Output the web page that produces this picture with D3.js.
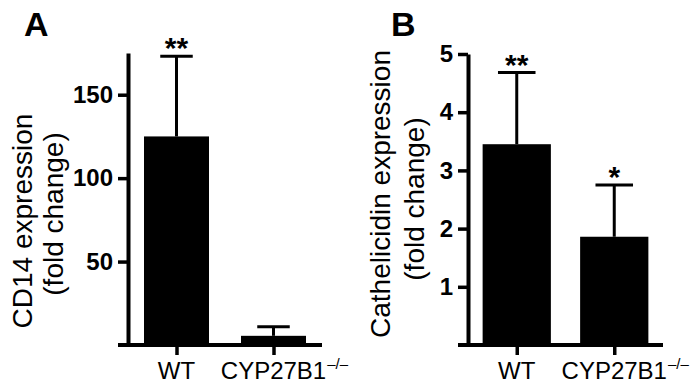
<!DOCTYPE html>
<html>
<head>
<meta charset="utf-8">
<script src="https://cdn.jsdelivr.net/npm/d3@7"></script>
<style>
  body { margin: 0; background: #fff; }
  svg { display: block; font-family: "Liberation Sans", Arial, Helvetica, sans-serif; }
</style>
</head>
<body>
<svg width="700" height="389"></svg>
<script>
// groups on the x axis
const groups = ["WT", "CYP27B1"];

// panel A: CD14 expression
const cd14_mean = [125, 5.5];
const cd14_err = [48, 5.5];
const cd14_stars = ["**", ""];
const cd14_ticks = [50, 100, 150];

// panel B: cathelicidin expression
const camp_mean = [3.45, 1.86];
const camp_err = [1.23, 0.89];
const camp_stars = ["**", "*"];
const camp_ticks = [1, 2, 3, 4, 5];

const svg = d3.select("svg");
const base_y = 345;

const panel = (p) => {
  const g = svg.append("g");

  const x = d3.scalePoint(groups, [p.left, p.right]).padding(0.5);
  const y = d3.scaleLinear([0, p.ymax], [base_y, p.top]);
  const bw = x.step() * p.barFrac;
  const rows = groups.map((d, i) => ({ g: d, v: p.mean[i], e: p.err[i], s: p.stars[i] }));

  // bars
  g.append("g")
    .selectAll("rect")
    .data(rows)
    .join("rect")
      .attr("x", d => x(d.g) - bw/2)
      .attr("width", bw)
      .attr("y", d => y(d.v))
      .attr("height", d => y(0) - y(d.v))
      .attr("fill", "#000");

  // error bars (upper only)
  const eb = g.append("g").attr("stroke", "#000").attr("stroke-width", 3);
  eb.selectAll(".v")
    .data(rows)
    .join("line")
      .attr("x1", d => x(d.g)).attr("x2", d => x(d.g))
      .attr("y1", d => y(d.v)).attr("y2", d => y(d.v + d.e));
  eb.selectAll(".c")
    .data(rows)
    .join("line")
      .attr("x1", d => x(d.g) - bw*p.capFrac/2).attr("x2", d => x(d.g) + bw*p.capFrac/2)
      .attr("y1", d => y(d.v + d.e)).attr("y2", d => y(d.v + d.e));

  // significance stars
  g.append("g")
    .selectAll("text")
    .data(rows)
    .join("text")
      .attr("x", d => x(d.g))
      .attr("y", d => y(d.v + d.e) + 2)
      .attr("text-anchor", "middle")
      .attr("font-size", 30)
      .attr("font-weight", "bold")
      .text(d => d.s);

  // y axis
  const ya = g.append("g")
    .attr("transform", `translate(${p.left},0)`)
    .call(d3.axisLeft(y).tickValues(p.ticks).tickFormat(d3.format("d"))
      .tickSize(10).tickSizeOuter(0).tickPadding(5));
  ya.select(".domain").attr("stroke-width", 4);
  ya.selectAll(".tick line").attr("stroke-width", 3.5);
  ya.selectAll(".tick text")
    .attr("font-size", 24)
    .attr("font-weight", "bold")
    .attr("font-family", null)
    .attr("fill", "#000");

  // baseline, running a little left of the y axis
  g.append("line")
    .attr("x1", p.left - 10).attr("x2", p.right)
    .attr("y1", y(0)).attr("y2", y(0))
    .attr("stroke", "#000").attr("stroke-width", 4);

  // x ticks
  const xa = g.append("g")
    .attr("transform", `translate(0,${y(0)})`)
    .call(d3.axisBottom(x).tickSize(10).tickSizeOuter(0).tickFormat(""));
  xa.select(".domain").remove();
  xa.selectAll(".tick line").attr("stroke-width", 3.5);

  // x labels with superscript for the knockout
  groups.forEach(name => {
    const t = g.append("text")
      .attr("x", x(name))
      .attr("y", 379)
      .attr("text-anchor", "middle")
      .attr("font-size", 24)
      .text(name);
    if (name !== "WT") {
      const w = t.node().getComputedTextLength();
      g.append("text")
        .attr("x", x(name) + w/2 + 1)
        .attr("y", 369)
        .attr("font-size", 15)
        .text("\u2013/\u2013");
    }
  });

  // y title, two lines
  p.title.forEach((line, i) => {
    g.append("text")
      .attr("transform", `translate(${p.titleX[i]},${p.titleY[i]}) rotate(-90)`)
      .attr("text-anchor", "middle")
      .attr("font-size", 28)
      .text(line);
  });

  // panel letter
  g.append("text")
    .attr("x", p.letterX)
    .attr("y", 36)
    .attr("font-size", 34)
    .attr("font-weight", "bold")
    .text(p.letter);
};

panel({
  letter: "A", letterX: 24,
  left: 128, right: 322, top: 53, ymax: 175,
  barFrac: 0.67, capFrac: 0.5,
  mean: cd14_mean, err: cd14_err, stars: cd14_stars, ticks: cd14_ticks,
  title: ["CD14 expression", "(fold change)"], titleX: [32, 63], titleY: [221, 214]
});

panel({
  letter: "B", letterX: 391,
  left: 468, right: 663, top: 54, ymax: 5,
  barFrac: 0.7, capFrac: 0.55,
  mean: camp_mean, err: camp_err, stars: camp_stars, ticks: camp_ticks,
  title: ["Cathelicidin expression", "(fold change)"], titleX: [390, 424], titleY: [194, 199]
});
</script>
</body>
</html>
